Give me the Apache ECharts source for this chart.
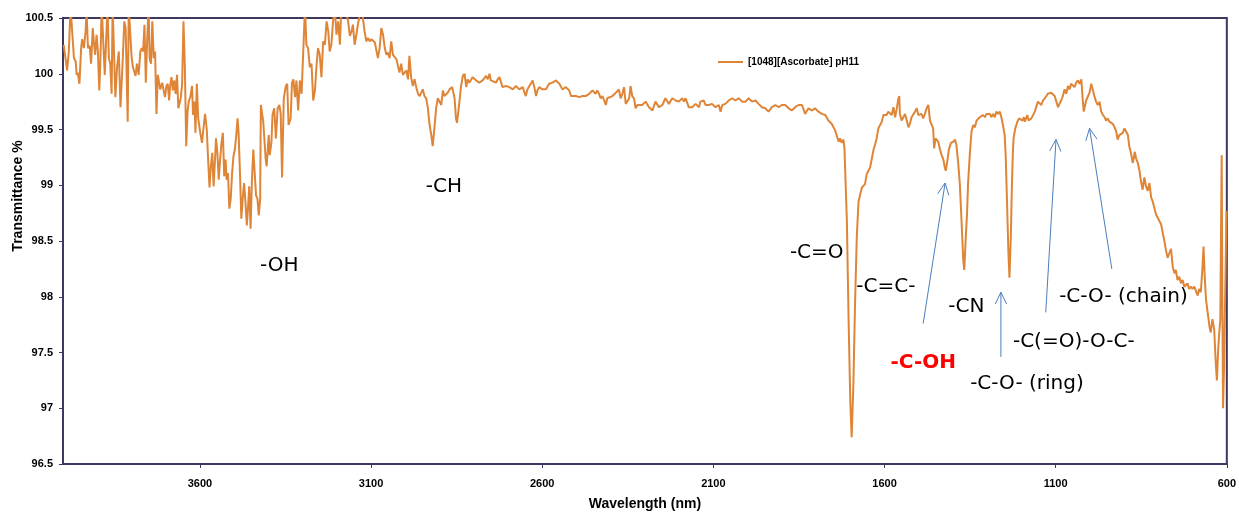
<!DOCTYPE html>
<html>
<head>
<meta charset="utf-8">
<script src="https://cdn.jsdelivr.net/npm/echarts@6/dist/echarts.min.js"></script>
<style>
  html, body { margin: 0; padding: 0; background: #ffffff; }
  #chart { width: 1239px; height: 516px; }
</style>
</head>
<body>
<div id="chart"></div>
<script>
// FTIR transmittance spectrum of ascorbate at pH 11, with band assignments.
const seriesName = '[1048][Ascorbate] pH11';
const wavelengthTicks = [3600, 3100, 2600, 2100, 1600, 1100, 600];

// [wavelength, transmittance %] — O-H stretch region (values above 100.5 run off the top)
const ohBand = [
  [3998,100.26],[3993,100.26],[3988,100.03],[3983,100.20],[3978,100.6],[3973,100.6],[3968,100.14],[3963,100.11],
  [3960,99.99],[3957,100.01],[3952,99.91],[3947,100.23],[3944,100.31],[3939,100.23],[3934,100.38],[3931,100.55],
  [3927,100.23],[3922,100.25],[3918,100.09],[3913,100.41],[3910,100.29],[3906,100.17],[3902,100.35],[3898,100.20],
  [3894,99.85],[3891,100.09],[3887,100.6],[3883,100.6],[3878,99.99],[3874,99.99],[3870,100.6],[3866,100.14],
  [3862,100.09],[3858,99.82],[3855,100.6],[3851,100.6],[3847,99.79],[3842,100.06],[3837,100.20],[3832,99.70],
  [3826,100.09],[3821,100.47],[3817,100.41],[3811,99.57],[3808,100.6],[3804,100.6],[3800,100.17],[3796,100.06],
  [3791,100.06],[3788,99.98],[3784,100.09],[3779,99.99],[3774,100.20],[3770,100.23],[3766,100.20],[3762,100.44],
  [3758,99.92],[3755,100.23],[3750,100.6],[3747,100.14],[3743,100.09],[3739,100.47],[3735,100.14],[3731,100.20],
  [3727,99.64],[3723,99.99],[3719,99.99],[3716,99.86],[3710,99.92],[3706,99.85],[3702,99.79],[3698,99.89],
  [3694,99.91],[3690,99.76],[3687,99.89],[3683,99.97],[3679,99.85],[3675,99.94],[3671,99.82],[3667,99.99],
  [3663,99.69],[3659,99.70],[3656,99.78],[3652,99.91],[3648,100.47],[3644,100.06],[3640,99.35],[3636,99.67],
  [3632,99.76],[3628,99.79],[3623,99.89],[3620,99.63],[3616,99.75],[3613,99.47],[3609,99.91],[3605,99.60],
  [3599,99.47],[3594,99.38],[3590,99.50],[3585,99.64],[3580,99.50],[3576,99.23],[3572,98.98],[3568,99.17],
  [3564,99.29],[3560,98.99],[3556,99.23],[3553,99.42],[3549,99.29],[3545,99.05],[3541,99.23],[3537,99.38],
  [3533,99.47],[3529,99.08],[3525,99.23],[3522,99.05],[3518,99.11],[3514,98.79],[3510,98.88],[3506,99.11],
  [3502,99.26],[3498,99.32],[3494,99.44],[3490,99.60],[3487,99.47],[3483,99.11],[3479,98.70],[3475,98.88],
  [3471,99.02],[3467,98.85],[3463,98.64],[3459,98.82],[3456,98.99],[3452,98.61],[3448,99.05],[3444,99.32],
  [3440,99.11],[3436,98.91],[3432,98.88],[3428,98.73],[3424,98.88],[3422,99.72],[3415,99.57],[3408,99.24],
  [3405,99.17],[3399,99.45],[3396,99.27],[3391,99.39],[3388,99.63],[3383,99.69],[3378,99.42],[3373,99.69],
  [3368,99.72],[3364,99.64],[3360,99.07],[3355,99.78],[3349,99.89],[3345,99.91],[3341,99.54],[3335,99.60],
  [3331,99.92]
];

// C-H stretch region
const chBand = [
  [3327,99.95],[3322,99.79],[3318,99.94],[3313,99.67],[3308,99.94],[3303,99.82],[3298,99.82],[3293,100.6],
  [3289,100.26],[3284,100.23],[3279,100.06],[3274,100.09],[3269,99.76],[3264,99.85],[3259,100.09],[3255,100.23],
  [3250,100.17],[3245,99.97],[3240,100.29],[3235,100.26],[3230,100.47],[3225,100.38],[3221,100.20],[3216,100.26],
  [3211,100.47],[3206,100.6],[3201,100.35],[3196,100.47],[3191,100.26],[3187,100.6],[3177,100.6],[3167,100.47],
  [3162,100.34],[3157,100.38],[3153,100.44],[3148,100.26],[3143,100.35],[3138,100.45],[3133,100.44],[3128,100.6],
  [3123,100.6],[3119,100.38],[3114,100.29],[3109,100.32],[3104,100.29],[3099,100.31],[3094,100.32],[3089,100.28],
  [3085,100.29],[3080,100.14],[3075,100.23],[3070,100.41],[3065,100.35],[3060,100.23],[3055,100.17],[3051,100.19],
  [3046,100.14],[3041,100.29],[3036,100.17],[3031,100.16],[3026,100.13],[3021,100.14],[3017,100.01],[3012,100.09],
  [3007,99.99],[3002,99.98],[2997,100.03],[2992,99.95],[2988,100.16],[2983,99.97],[2978,99.89],[2973,99.95],
  [2968,99.88],[2963,99.82],[2958,99.80],[2954,99.80],[2949,99.86],[2944,99.80],[2939,99.78],[2934,99.69],
  [2929,99.54],[2924,99.45],[2920,99.35],[2915,99.51],[2910,99.69],[2905,99.78],[2900,99.78],[2895,99.72],
  [2890,99.85],[2886,99.80],[2881,99.80],[2876,99.83],[2871,99.86],[2863,99.88],[2856,99.78],[2852,99.60],
  [2849,99.56],[2844,99.69]
];

// Featureless mid-range plateau
const plateau = [
  [2837,99.89],[2832,99.98],[2827,100.00],[2822,99.88],[2818,99.95],[2813,99.92],[2803,99.97],[2793,99.94],
  [2784,99.92],[2774,99.94],[2764,99.98],[2759,99.95],[2754,100.00],[2750,99.94],[2745,99.95],[2735,99.92],
  [2730,99.95],[2725,99.97],[2716,99.88],[2706,99.89],[2696,99.88],[2686,99.86],[2677,99.89],[2667,99.86],
  [2657,99.88],[2648,99.80],[2643,99.86],[2638,99.85],[2628,99.94],[2623,99.88],[2618,99.80],[2614,99.85],
  [2609,99.88],[2599,99.86],[2589,99.86],[2580,99.91],[2570,99.92],[2560,99.94],[2555,99.95],[2550,99.91],
  [2541,99.86],[2531,99.88],[2521,99.85],[2516,99.80],[2512,99.79],[2502,99.80],[2492,99.79],[2482,99.80],
  [2473,99.80],[2463,99.82],[2453,99.85],[2444,99.82],[2439,99.85],[2434,99.82],[2429,99.78],[2424,99.80],
  [2414,99.72],[2410,99.78],[2405,99.79],[2395,99.80],[2385,99.83],[2376,99.86],[2371,99.78],[2366,99.82],
  [2361,99.88],[2356,99.73],[2346,99.78],[2342,99.89],[2337,99.80],[2332,99.78],[2327,99.69],[2322,99.72],
  [2317,99.72],[2308,99.72],[2298,99.75],[2288,99.70],[2278,99.67],[2269,99.75],[2259,99.70],[2249,99.72],
  [2240,99.78],[2230,99.73],[2220,99.78],[2210,99.76],[2201,99.75],[2191,99.78],[2186,99.75],[2181,99.78],
  [2172,99.70],[2162,99.70],[2152,99.73],[2142,99.70],[2138,99.75],[2133,99.76],[2128,99.76],[2123,99.72],
  [2113,99.72],[2104,99.73],[2094,99.70],[2084,99.72],[2079,99.66],[2074,99.72],[2065,99.73],[2055,99.76],
  [2045,99.78],[2036,99.76],[2026,99.78],[2016,99.75],[2006,99.75],[1997,99.78],[1987,99.75],[1977,99.76],
  [1968,99.73],[1958,99.70],[1948,99.69],[1939,99.66],[1929,99.70],[1919,99.72],[1909,99.70],[1900,99.72],
  [1890,99.72],[1880,99.69],[1871,99.67],[1861,99.70],[1851,99.72],[1841,99.72],[1832,99.64],[1822,99.69],
  [1812,99.67],[1803,99.69],[1793,99.66],[1783,99.64],[1773,99.63],[1764,99.58],[1754,99.55],[1744,99.49]
];

// Carbonyl, C=C, C-OH, CN and ring C-O bands
const doubleBondRegion = [
  [1739,99.44],[1734,99.39],[1730,99.42],[1725,99.38],[1720,99.41],[1717,99.33],[1715,99.32],[1710,98.68],
  [1705,97.80],[1700,97.06],[1696,96.74],[1691,97.21],[1686,97.95],[1681,98.54],[1676,98.85],[1671,98.92],
  [1666,98.98],[1662,98.99],[1657,99.01],[1652,99.10],[1647,99.13],[1642,99.16],[1637,99.24],[1632,99.32],
  [1628,99.36],[1623,99.42],[1618,99.51],[1613,99.52],[1608,99.57],[1603,99.63],[1598,99.64],[1594,99.63],
  [1589,99.66],[1584,99.67],[1579,99.63],[1574,99.70],[1569,99.61],[1564,99.69],[1560,99.77],[1557,99.80],
  [1555,99.64],[1550,99.58],[1545,99.61],[1540,99.64],[1535,99.58],[1530,99.52],[1526,99.55],[1521,99.61],
  [1516,99.60],[1511,99.66],[1506,99.69],[1501,99.63],[1496,99.63],[1492,99.64],[1487,99.60],[1482,99.64],
  [1477,99.69],[1472,99.72],[1469,99.63],[1467,99.58],[1462,99.58],[1458,99.51],[1455,99.33],[1451,99.42],
  [1447,99.41],[1443,99.39],[1438,99.32],[1433,99.27],[1428,99.23],[1424,99.16],[1421,99.13],[1416,99.23],
  [1412,99.32],[1406,99.38],[1399,99.39],[1394,99.41],[1390,99.36],[1385,99.21],[1380,99.01],[1375,98.68],
  [1370,98.33],[1367,98.24],[1363,98.51],[1359,98.74],[1356,99.01],[1351,99.27],[1346,99.48],[1341,99.54],
  [1336,99.52],[1331,99.58],[1326,99.58],[1322,99.61],[1317,99.60],[1312,99.63],[1307,99.61],[1302,99.64],
  [1297,99.63],[1292,99.64],[1288,99.61],[1283,99.64],[1278,99.61],[1273,99.66],[1268,99.64],[1263,99.66],
  [1258,99.60],[1254,99.54],[1249,99.45],[1246,99.27],[1242,98.83],[1238,98.39],[1235,98.17],[1231,98.54],
  [1228,98.98],[1225,99.30],[1223,99.42],[1218,99.51],[1212,99.57],[1207,99.60],[1202,99.61],[1197,99.58],
  [1193,99.61],[1190,99.57],[1186,99.58],[1183,99.63],[1179,99.58],[1176,99.57],[1171,99.60],[1166,99.61]
];

// Ester / chain C-O region down to the low-wavelength end
const fingerprint = [
  [1161,99.66],[1157,99.67],[1152,99.75],[1147,99.76],[1142,99.72],[1137,99.76],[1132,99.77],[1127,99.80],
  [1123,99.82],[1118,99.83],[1113,99.83],[1108,99.82],[1103,99.80],[1098,99.75],[1093,99.70],[1089,99.73],
  [1084,99.76],[1079,99.80],[1074,99.86],[1069,99.82],[1064,99.89],[1059,99.86],[1055,99.91],[1050,99.92],
  [1045,99.88],[1040,99.92],[1035,99.94],[1030,99.91],[1025,99.95],[1021,99.77],[1018,99.66],[1016,99.69],
  [1011,99.76],[1006,99.77],[1001,99.83],[996,99.91],[991,99.85],[987,99.80],[982,99.75],[977,99.72],
  [972,99.75],[967,99.66],[962,99.63],[957,99.61],[953,99.58],[948,99.60],[943,99.57],[938,99.58],
  [933,99.55],[928,99.52],[923,99.48],[919,99.41],[914,99.45],[909,99.44],[904,99.47],[899,99.51],
  [894,99.52],[889,99.45],[885,99.35],[880,99.29],[875,99.20],[872,99.24],[869,99.30],[865,99.24],
  [860,99.20],[855,99.13],[851,99.04],[846,98.96],[841,99.07],[836,98.99],[831,98.95],[826,99.02],
  [821,98.89],[817,98.86],[812,98.80],[807,98.74],[802,98.73],[797,98.68],[792,98.65],[787,98.57],
  [783,98.51],[778,98.42],[773,98.35],[768,98.39],[763,98.43],[758,98.27],[753,98.21],[749,98.24],
  [744,98.15],[739,98.18],[734,98.12],[729,98.15],[724,98.09],[719,98.08],[715,98.12],[710,98.07],
  [705,98.09],[700,98.07],[695,98.09],[690,98.05],[685,98.01],[681,98.07],[676,98.04],[671,98.27],
  [668,98.45],[665,98.21],[661,97.98],[656,97.86],[651,97.74],[647,97.68],[642,97.80],[637,97.71],
  [632,97.39],[629,97.25],[625,97.54],[622,97.68],[619,97.80],[617,98.57],[615,99.27],[613,97.98],
  [611,97.00],[608,97.39],[605,97.98],[601,98.77]
];

// Band assignment labels, anchored at [wavelength, transmittance]
const bandLabels = [
  { text: '-OH', at: [3368, 98.28] },
  { text: '-CH', at: [2887, 98.99] },
  { text: '-C=O', at: [1798, 98.39] },
  { text: '-C=C-', at: [1596, 98.09] },
  { text: '-CN', at: [1361, 97.91] },
  { text: '-C-OH', at: [1487, 97.41], color: '#ff0000', bold: true },
  { text: '-C-O- (ring)', at: [1184, 97.22] },
  { text: '-C(=O)-O-C-', at: [1047, 97.60] },
  { text: '-C-O- (chain)', at: [902, 98.00] }
];

// Pointer arrows: [fromWavelength, fromT, toWavelength, toT]
const bandArrows = [
  [1487, 97.76, 1423, 99.02],
  [1260, 97.46, 1260, 98.04],
  [1129, 97.86, 1099, 99.41],
  [936, 98.25, 1001, 99.51]
];

const spectrum = [].concat(ohBand, chBand, plateau, doubleBondRegion, fingerprint);

const AXIS_COLOR = '#41365f';
const LINE_COLOR = '#df8537';
const ARROW_COLOR = '#4a7ebb';

const chart = echarts.init(document.getElementById('chart'), null, { renderer: 'canvas' });

chart.setOption({
  animation: false,
  backgroundColor: '#ffffff',
  grid: {
    left: 63, right: 10, top: 18, bottom: 46,
    show: true, borderColor: AXIS_COLOR, borderWidth: 2, backgroundColor: 'transparent'
  },
  legend: {
    data: [seriesName],
    left: 718, top: 57,
    padding: 0,
    icon: 'rect',
    itemWidth: 25, itemHeight: 2, itemGap: 4,
    textStyle: { fontFamily: 'Liberation Sans', fontWeight: 'bold', fontSize: 10, color: '#000' }
  },
  xAxis: {
    type: 'value',
    inverse: true,
    min: 600, max: 4000, interval: 500,
    name: 'Wavelength (nm)',
    nameLocation: 'middle',
    nameGap: 33,
    nameTextStyle: { fontFamily: 'Liberation Sans', fontWeight: 'bold', fontSize: 14, color: '#000' },
    axisLine: { show: true, lineStyle: { color: AXIS_COLOR, width: 2 } },
    axisTick: { show: true, length: 4, customValues: wavelengthTicks, lineStyle: { color: AXIS_COLOR, width: 1 } },
    axisLabel: {
      customValues: wavelengthTicks, margin: 14,
      formatter: function (v) { return String(v); },
      fontFamily: 'Liberation Sans', fontWeight: 'bold', fontSize: 11, color: '#000'
    },
    splitLine: { show: false }
  },
  yAxis: {
    type: 'value',
    min: 96.5, max: 100.5, interval: 0.5,
    axisLine: { show: true, lineStyle: { color: AXIS_COLOR, width: 2 } },
    axisTick: { show: true, length: 4, lineStyle: { color: AXIS_COLOR, width: 1 } },
    axisLabel: { margin: 10, fontFamily: 'Liberation Sans', fontWeight: 'bold', fontSize: 11, color: '#000' },
    splitLine: { show: false }
  },
  graphic: [{
    type: 'text',
    x: 18, y: 196,
    rotation: Math.PI / 2,
    style: {
      text: 'Transmittance %',
      fill: '#000',
      fontFamily: 'Liberation Sans', fontWeight: 'bold', fontSize: 14,
      align: 'center', verticalAlign: 'middle'
    }
  }],
  series: [
    {
      name: seriesName,
      type: 'line',
      data: spectrum,
      symbol: 'none',
      showSymbol: false,
      sampling: false,
      clip: true,
      lineStyle: { color: LINE_COLOR, width: 2 },
      itemStyle: { color: LINE_COLOR },
      z: 3
    },
    {
      name: 'arrows',
      type: 'custom',
      silent: true,
      z: 4,
      data: bandArrows,
      encode: { x: [0, 2], y: [1, 3] },
      renderItem: function (params, api) {
        const a = api.coord([api.value(0), api.value(1)]);
        const b = api.coord([api.value(2), api.value(3)]);
        const ang = Math.atan2(b[1] - a[1], b[0] - a[0]);
        const len = 13, spread = 0.45;
        const w1 = [b[0] - len * Math.cos(ang - spread), b[1] - len * Math.sin(ang - spread)];
        const w2 = [b[0] - len * Math.cos(ang + spread), b[1] - len * Math.sin(ang + spread)];
        const stroke = { stroke: ARROW_COLOR, lineWidth: 1, fill: null };
        return {
          type: 'group',
          children: [
            { type: 'line', shape: { x1: a[0], y1: a[1], x2: b[0], y2: b[1] }, style: stroke },
            { type: 'polyline', shape: { points: [w1, b, w2] }, style: stroke }
          ]
        };
      }
    },
    {
      name: 'labels',
      type: 'custom',
      silent: true,
      z: 5,
      data: bandLabels.map(function (d) { return d.at; }),
      renderItem: function (params, api) {
        const p = api.coord([api.value(0), api.value(1)]);
        const lab = bandLabels[params.dataIndex];
        return {
          type: 'text',
          x: p[0], y: p[1],
          style: {
            text: lab.text,
            fill: lab.color || '#000',
            fontFamily: 'DejaVu Sans',
            fontWeight: lab.bold ? 'bold' : 'normal',
            fontSize: 20,
            align: 'center', verticalAlign: 'middle'
          }
        };
      }
    }
  ]
});
</script>
</body>
</html>
